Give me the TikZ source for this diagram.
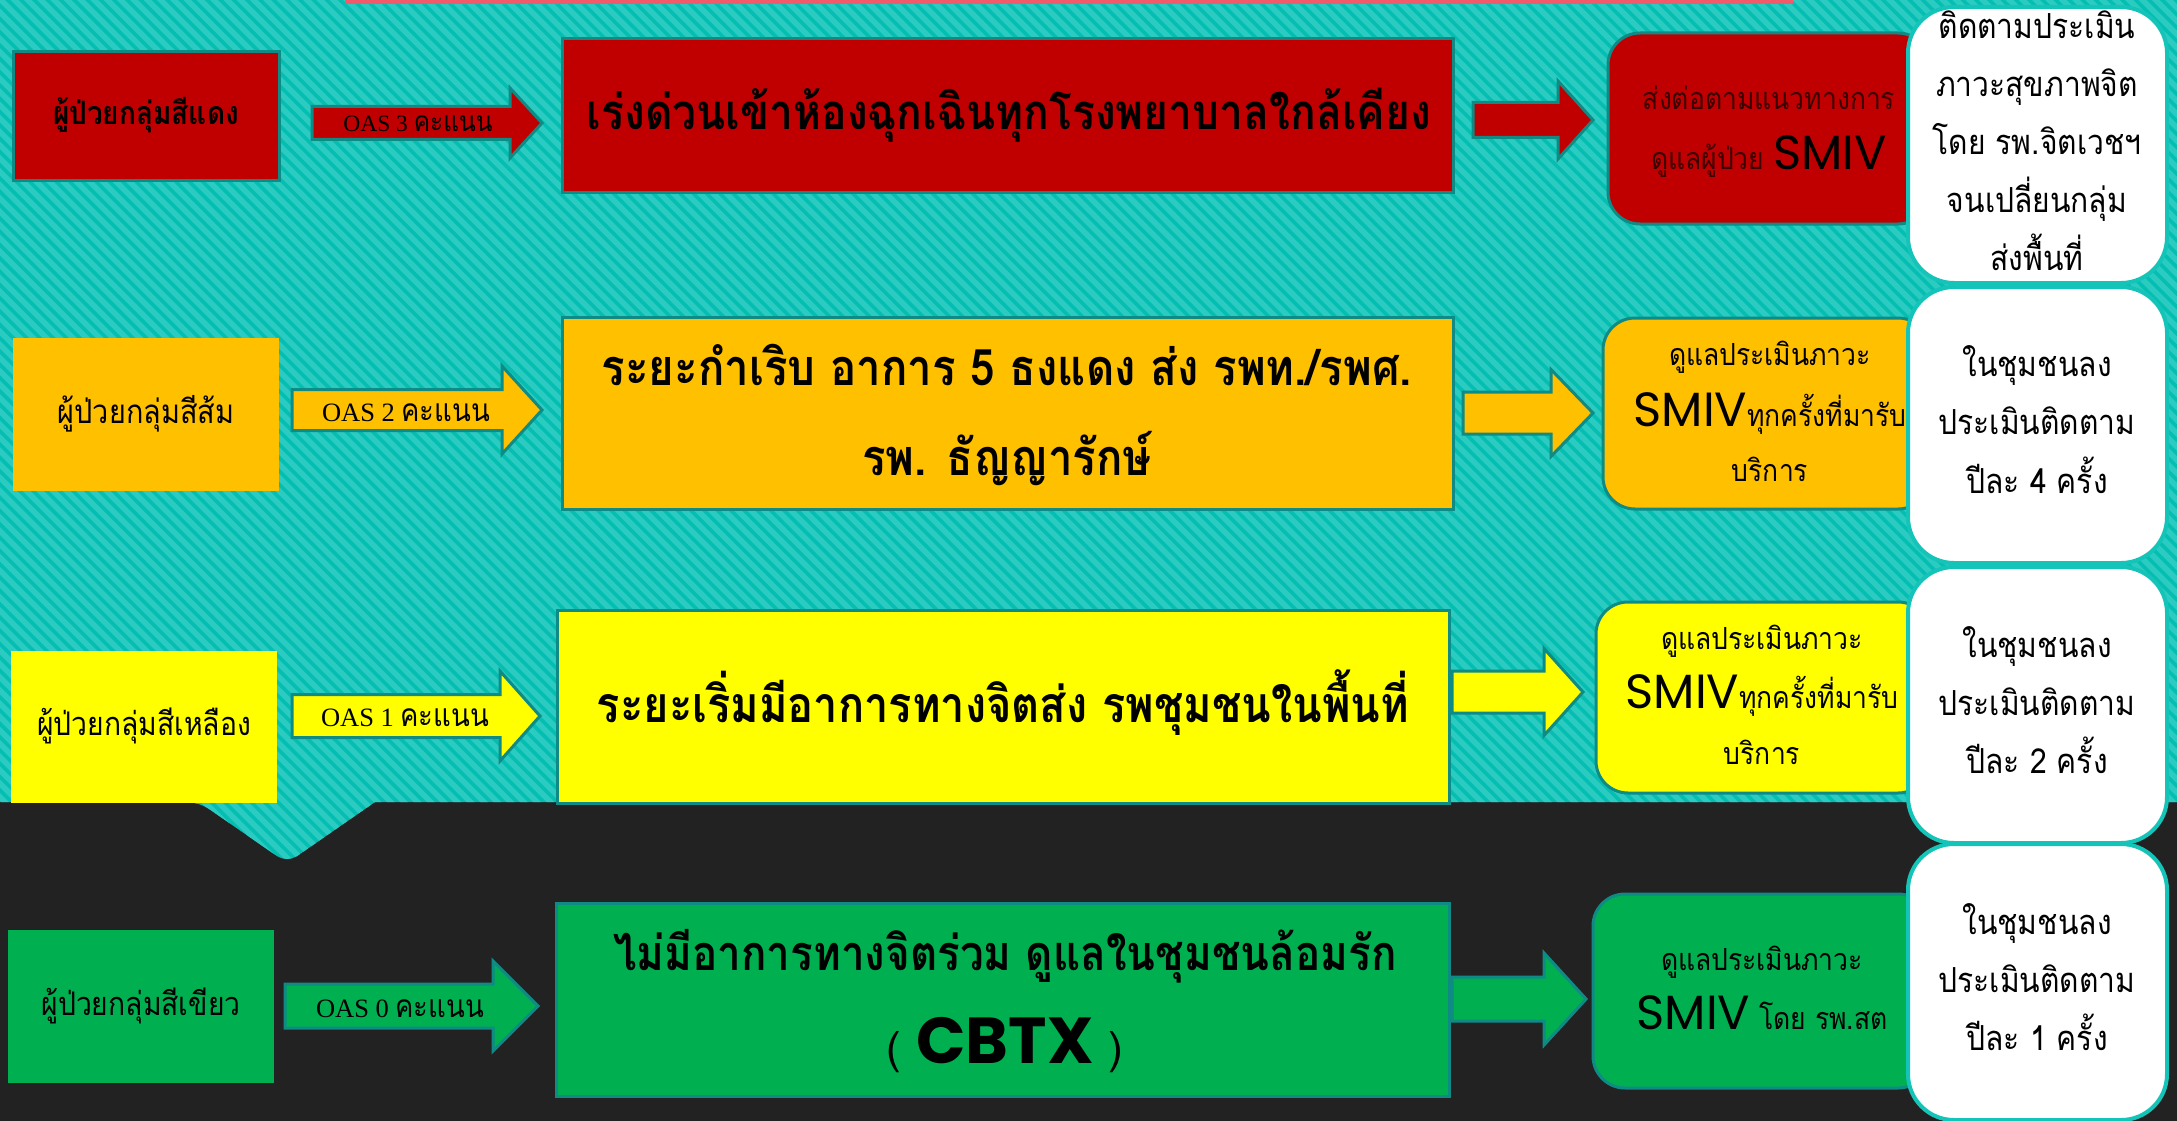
\documentclass[tikz,border=0pt]{standalone}
\usepackage{graphicx}
\usepackage{fontspec}
\setmainfont{Loma}[Script=Thai]
\newfontfamily\serifL{Liberation Serif}
\newfontfamily\geo{Poppins}
\usetikzlibrary{calc}
\definecolor{darkbg}{HTML}{222222}
\definecolor{tealA}{HTML}{05BEB2}
\definecolor{tealB}{HTML}{2CCBC1}
\definecolor{pinkbar}{HTML}{F05A6B}
\definecolor{bord}{HTML}{0F8B85}
\definecolor{wbord}{HTML}{15C4B8}
\definecolor{cred}{HTML}{C00000}
\definecolor{corange}{HTML}{FFC000}
\definecolor{cyellow}{HTML}{FFFF00}
\definecolor{cgreen}{HTML}{00B050}
\definecolor{maroon}{HTML}{3C0000}
\tikzset{
  bx/.style={draw=bord, line width=3pt, inner sep=0pt},
  nb/.style={inner sep=0pt},
  rbx/.style={draw=bord, line width=3pt, rounded corners=32pt, inner sep=0pt},
  wbx/.style={draw=wbord, line width=4pt, fill=white, rounded corners=46pt, inner sep=0pt},
  arrowst/.style={draw=bord, line width=3pt, line join=miter},
  sz/.style 2 args={minimum width=#1, minimum height=#2},
  txt/.style={anchor=base, inner sep=0pt, align=center, text=black},
}
\newcommand\ts[1]{\scalebox{1}[1.15]{#1}}
\newcommand\blockarrow[6]{%
  \draw[arrowst, fill=#1] ($(#2)+(0,-#4)$) -- ($(#3)+(-#6,-#4)$) -- ($(#3)+(-#6,-#5)$) -- (#3)
    -- ($(#3)+(-#6,#5)$) -- ($(#3)+(-#6,#4)$) -- ($(#2)+(0,#4)$) -- cycle;}
\newcommand\oas[3]{{\serifL\fontsize{#1}{#1}\selectfont OAS #3 }{\fontsize{#2}{#2}\selectfont \ts{คะแนน}}}
\begin{document}
\begin{tikzpicture}[x=1pt,y=-1pt]
\useasboundingbox (0,0) rectangle (2177,1121);
% background
\fill[darkbg] (0,0) rectangle (2177,1121);
\fill[tealA] (0,0) -- (2177,0) -- (2177,802) -- (375,802) [rounded corners=12pt] -- (287,863) -- (199,802) [sharp corners] -- (0,802) -- cycle;
\begin{scope}
  \clip (0,0) -- (2177,0) -- (2177,802) -- (375,802) [rounded corners=12pt] -- (287,863) -- (199,802) [sharp corners] -- (0,802) -- cycle;
  \foreach \i in {-900,-886.7,...,2180} \draw[tealB, line width=5.5pt] (\i,-10) -- ++(910,910);
\end{scope}
\fill[pinkbar] (345,0) rectangle (1793,4);

% ---------- left boxes
\node[bx, fill=cred, sz={266}{128}] (L1) at (146,116) {};
\node[nb, fill=corange, sz={266}{153}] (L2) at (146,414.5) {};
\node[nb, fill=cyellow, sz={266}{152}] (L3) at (144,727) {};
\node[nb, fill=cgreen, sz={266}{153}] (L4) at (141,1006.5) {};
\node[txt, font=\bfseries\fontsize{28}{34}\selectfont] (L1t) at (146,125) {\ts{ผู้ป่วยกลุ่มสีแดง}};
\node[txt, font=\fontsize{28.8}{36}\selectfont] (L2t) at (146,423) {\ts{ผู้ป่วยกลุ่มสีส้ม}};
\node[txt, font=\fontsize{28.3}{36}\selectfont] (L3t) at (144,735) {\ts{ผู้ป่วยกลุ่มสีเหลือง}};
\node[txt, font=\fontsize{28.3}{36}\selectfont] (L4t) at (141,1015) {\ts{ผู้ป่วยกลุ่มสีเขียว}};

% ---------- big boxes
\node[bx, fill=cred, sz={891}{153}] (B1) at (1007.5,115.5) {};
\node[bx, fill=corange, sz={891}{192}] (B2) at (1007.5,413) {};
\node[bx, fill=cyellow, sz={892}{193}] (B3) at (1003,706.5) {};
\node[bx, fill=cgreen, sz={893}{193}] (B4) at (1002.5,999.5) {};

% ---------- arrows left -> big
\coordinate (A1s) at (312,123);  \coordinate (A1e) at (542,123);
\coordinate (A2s) at (292,410);  \coordinate (A2e) at (542,410);
\coordinate (A3s) at (292,716);  \coordinate (A3e) at (540,716);
\coordinate (A4s) at (285,1006); \coordinate (A4e) at (538,1006);
\blockarrow{cred}{A1s}{A1e}{16.5}{35}{32}
\blockarrow{corange}{A2s}{A2e}{20.5}{44}{40}
\blockarrow{cyellow}{A3s}{A3e}{21.5}{45}{40}
\blockarrow{cgreen}{A4s}{A4e}{22}{45}{45}
\node[txt] (A1t) at (418,132) {\oas{23.5}{24.5}{3}};
\node[txt] (A2t) at (406,421) {\oas{26.5}{27.5}{2}};
\node[txt] (A3t) at (405,726) {\oas{26.5}{27.5}{1}};
\node[txt] (A4t) at (400,1017) {\oas{26.5}{27.5}{0}};

% ---------- big texts (anchor = baseline of last line)
\node[txt, font=\bfseries\fontsize{42.6}{50}\selectfont] (B1t) at (1009,130) {\ts{เร่งด่วนเข้าห้องฉุกเฉินทุกโรงพยาบาลใกล้เคียง}};
\node[txt, font=\bfseries\fontsize{43.8}{90}\selectfont] (B2t) at (1007,475) {\ts{ระยะกำเริบ อาการ 5 ธงแดง ส่ง รพท./รพศ.}\\\ts{รพ. ธัญญารักษ์}};
\node[txt, font=\bfseries\fontsize{43.4}{50}\selectfont] (B3t) at (1003,722) {\ts{ระยะเริ่มมีอาการทางจิตส่ง รพชุมชนในพื้นที่}};
\node[txt, font=\bfseries\fontsize{42.2}{93}\selectfont] (B4t) at (1005,1063) {\ts{ไม่มีอาการทางจิตร่วม ดูแลในชุมชนล้อมรัก}\\{\mdseries\fontsize{44}{93}\selectfont ( }{\geo\fontsize{65}{93}\selectfont CBTX}{\mdseries\fontsize{44}{93}\selectfont\ )}};

% ---------- arrows big -> result
\coordinate (C1s) at (1473,120); \coordinate (C1e) at (1593,120);
\coordinate (C2s) at (1463,413); \coordinate (C2e) at (1593,413);
\coordinate (C3s) at (1452,692); \coordinate (C3e) at (1583,692);
\coordinate (C4s) at (1452,999); \coordinate (C4e) at (1586,999);
\blockarrow{cred}{C1s}{C1e}{17.5}{39}{35}
\blockarrow{corange}{C2s}{C2e}{21}{43.5}{42}
\blockarrow{cyellow}{C3s}{C3e}{21}{43.5}{39}
\blockarrow{cgreen}{C4s}{C4e}{22}{46}{42}

% ---------- result boxes
\node[rbx, fill=cred, sz={322}{191}] (R1) at (1769,128.5) {};
\node[rbx, fill=corange, sz={327}{191}] (R2) at (1766.5,413.5) {};
\node[rbx, fill=cyellow, sz={334}{191}] (R3) at (1763,697.5) {};
\node[rbx, fill=cgreen, sz={337}{194}] (R4) at (1761.5,991) {};
\node[txt, text=maroon, font=\fontsize{26.5}{61}\selectfont] (R1t) at (1769,170) {\ts{ส่งต่อตามแนวทางการ}\\\ts{ดูแลผู้ป่วย} {\color{black}\geo\fontsize{48}{61}\selectfont SMIV}};
\node[txt, font=\fontsize{26.5}{61}\selectfont] (R2t) at (1770,481) {\ts{ดูแลประเมินภาวะ}\\{\geo\fontsize{48}{61}\selectfont SMIV}\ts{ทุกครั้งที่มารับ}\\[-6pt]\ts{บริการ}};
\node[txt, font=\fontsize{26.5}{59}\selectfont] (R3t) at (1762,764) {\ts{ดูแลประเมินภาวะ}\\{\geo\fontsize{48}{59}\selectfont SMIV}\ts{ทุกครั้งที่มารับ}\\[-3pt]\ts{บริการ}};
\node[txt, font=\fontsize{26.5}{59}\selectfont] (R4t) at (1762,1029) {\ts{ดูแลประเมินภาวะ}\\{\geo\fontsize{48}{59}\selectfont SMIV} \ts{โดย รพ.สต}};

% ---------- white boxes
\node[wbx, sz={259}{276}] (W1) at (2037.5,145) {};
\node[wbx, sz={259}{276}] (W2) at (2037.5,425) {};
\node[wbx, sz={259}{276}] (W3) at (2037.5,705) {};
\node[wbx, sz={259}{276}] (W4) at (2037.5,982) {};
\node[txt, font=\fontsize{30}{57.8}\selectfont] (W1t) at (2037,270) {\ts{ติดตามประเมิน}\\\ts{ภาวะสุขภาพจิต}\\\ts{โดย รพ.จิตเวชฯ}\\\ts{จนเปลี่ยนกลุ่ม}\\\ts{ส่งพื้นที่}};
\node[txt, font=\fontsize{30}{58.5}\selectfont] (W2t) at (2037,493) {\ts{ในชุมชนลง}\\\ts{ประเมินติดตาม}\\\ts{ปีละ 4 ครั้ง}};
\node[txt, font=\fontsize{30}{58}\selectfont] (W3t) at (2037,773) {\ts{ในชุมชนลง}\\\ts{ประเมินติดตาม}\\\ts{ปีละ 2 ครั้ง}};
\node[txt, font=\fontsize{30}{58}\selectfont] (W4t) at (2037,1050) {\ts{ในชุมชนลง}\\\ts{ประเมินติดตาม}\\\ts{ปีละ 1 ครั้ง}};
\end{tikzpicture}
\end{document}
